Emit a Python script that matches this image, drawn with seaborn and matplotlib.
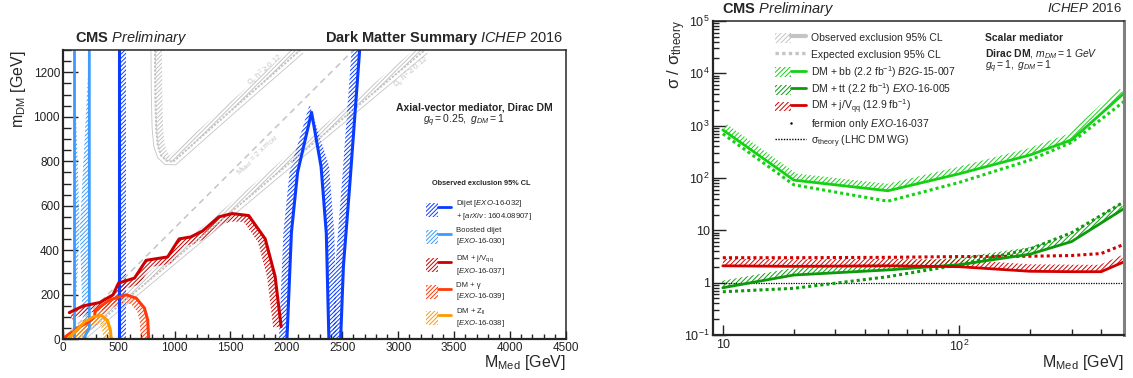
import numpy as np
import seaborn as sns
import matplotlib.pyplot as plt
from matplotlib.lines import Line2D
from matplotlib.patches import Patch, Rectangle
from matplotlib.legend_handler import HandlerTuple, HandlerPatch
from matplotlib.ticker import MultipleLocator, FixedLocator, FixedFormatter, LogLocator, NullFormatter

# ---------------- left panel: axial-vector mediator, (M_med, m_DM) in GeV
dijet_mmed = [505, 505]
dijet_mdm = [0, 1300]
dijet_peak_mmed = [2005, 2045, 2100, 2225, 2310, 2357, 2380]
dijet_peak_mdm = [0, 480, 750, 1020, 776, 476, 0]
dijet_high_mmed = [2485, 2510, 2570, 2655]
dijet_high_mdm = [0, 330, 716, 1300]
boosted_left_mmed = [101, 101]
boosted_left_mdm = [0, 1300]
boosted_right_mmed = [238, 238, 184]
boosted_right_mdm = [1300, 50, 0]
monojet_mmed = [59, 183, 331, 450, 500, 642, 746, 938, 1041, 1145, 1249, 1396, 1515, 1663, 1811, 1899, 1953]
monojet_mdm = [120, 150, 165, 200, 253, 275, 355, 370, 451, 460, 486, 550, 565, 556, 451, 283, 57]
monophoton_mmed = [20, 65, 110, 125, 210, 285, 290, 420, 568, 657, 731, 760, 769]
monophoton_mdm = [10, 27, 37, 50, 72, 100, 130, 177, 200, 185, 140, 87, 0]
monoz_mmed = [50, 120, 200, 280, 346, 400, 425, 435]
monoz_mdm = [5, 40, 80, 102, 107, 85, 45, 0]
relic_u_mmed = [825, 828, 835, 850, 880, 930, 988, 1494, 2125]
relic_u_mdm = [1300, 1100, 950, 870, 825, 802, 798, 1023, 1300]
relic_low_mmed = [143, 3238]
relic_low_mdm = [0, 1300]
diag_mmed = [0, 2600]
diag_mdm = [0, 1300]

# ---------------- right panel: scalar mediator, sigma/sigma_theory
med_mass = [10, 20, 50, 100, 200, 300, 500]
bb_obs = [830, 91, 57, 120, 275, 535, 4150]
bb_exp = [700, 74, 36, 82, 220, 480, 2900]
tt_obs = [0.80, 1.4, 1.75, 2.2, 3.5, 6.1, 26]
tt_exp = [0.67, 0.78, 1.3, 2.2, 4.4, 9.0, 35]
mono_mass = [10, 20, 50, 100, 200, 300, 400, 500]
mono_obs = [2.1, 2.05, 2.1, 2.02, 1.65, 1.62, 1.62, 2.5]
mono_exp = [3.0, 3.0, 3.05, 3.15, 3.2, 3.3, 3.6, 5.4]
theory_mass = [10, 500]
theory_val = [1, 1]

c_dijet = '#0a3cff'
c_boost = '#3d9bff'
c_monojet = '#cc0000'
c_photon = '#ff3a0a'
c_z = '#ff9a00'
c_relic = '#c4c4c4'
c_bb = '#16d016'
c_tt = '#0c9a0c'
c_red = '#d40000'
HATCH_L = '/' * 8
HATCH_R = '/' * 7

sns.set_style("ticks")
plt.rcParams['font.family'] = ['Liberation Sans', 'DejaVu Sans']
plt.rcParams['mathtext.fontset'] = 'custom'
plt.rcParams['mathtext.rm'] = 'Liberation Sans'
plt.rcParams['mathtext.it'] = 'Liberation Sans:italic'
plt.rcParams['mathtext.bf'] = 'Liberation Sans:bold'
plt.rcParams['mathtext.sf'] = 'Liberation Sans'
plt.rcParams['hatch.linewidth'] = 0.7
plt.rcParams['xtick.direction'] = 'in'
plt.rcParams['ytick.direction'] = 'in'

W, H = 1133, 378
fig = plt.figure(figsize=(W / 100, H / 100), dpi=100)
axl = fig.add_axes([62.7 / W, 1 - 339.3 / H, 503.3 / W, 289.3 / H])
axr = fig.add_axes([712.7 / W, 1 - 335 / H, 411.3 / W, 314 / H])

axl.set_xlim(0, 4500)
axl.set_ylim(0, 1300)
axr.set_xscale('log')
axr.set_yscale('log')
axr.set_xlim(9.06, 500)
axr.set_ylim(0.1, 1e5)


def offset_line(ax, x, y, dist):
    # shift a curve sideways by dist pixels (positive = left of drawing direction)
    pts = ax.transData.transform(np.column_stack([x, y]).astype(float))
    t = np.gradient(pts, axis=0)
    t /= np.hypot(t[:, 0], t[:, 1])[:, None]
    n = np.column_stack([-t[:, 1], t[:, 0]])
    return ax.transData.inverted().transform(pts + dist * n)


def hatch_side(ax, x, y, color, dist, hatch):
    off = offset_line(ax, x, y, dist)
    xs = np.concatenate([np.asarray(x, float), off[::-1, 0]])
    ys = np.concatenate([np.asarray(y, float), off[::-1, 1]])
    ax.fill(xs, ys, facecolor='none', edgecolor=color, hatch=hatch, lw=0)


def curve(ax, x, y, color, lw, **kw):
    sns.lineplot(x=x, y=y, sort=False, estimator=None, color=color, linewidth=lw, ax=ax, **kw)


# ---- left: grey relic lines and M = 2m line
for mx, my in [(relic_u_mmed, relic_u_mdm), (relic_low_mmed, relic_low_mdm)]:
    hatch_side(axl, mx, my, c_relic, 7, HATCH_L)
    thin = offset_line(axl, mx, my, -4)
    axl.plot(thin[:, 0], thin[:, 1], color=c_relic, lw=0.6)
    curve(axl, mx, my, c_relic, 1.4, linestyle=(0, (1.2, 0.8)))
curve(axl, diag_mmed, diag_mdm, '#c4c4c4', 1.1, linestyle=(0, (4, 3)))
axl.text(1746, 827, r"M$_{\rm Med}$ = 2 x m$_{\rm DM}$", rotation=44.8, color='#c4c4c4',
         fontsize=5.5, ha='center', va='center', rotation_mode='anchor')
axl.text(1807, 1210, "Ω$_{c}$ h$^{2}$ ≥ 0.12", rotation=41, color='#c4c4c4',
         fontsize=5.5, ha='center', va='center', rotation_mode='anchor')
axl.text(3116, 1200, "Ω$_{c}$ h$^{2}$ ≥ 0.12", rotation=41, color='#c4c4c4',
         fontsize=5.5, ha='center', va='center', rotation_mode='anchor')

# ---- left: exclusion contours
bx = boosted_left_mmed + boosted_right_mmed[::-1]
by = boosted_left_mdm + boosted_right_mdm[::-1]
axl.fill(bx, by, facecolor='none', edgecolor=c_boost, hatch=HATCH_L, lw=0)
curve(axl, boosted_left_mmed, boosted_left_mdm, c_boost, 2.0)
curve(axl, boosted_right_mmed, boosted_right_mdm, c_boost, 2.0)

hatch_side(axl, dijet_mmed, dijet_mdm, c_dijet, -7, HATCH_L)
hatch_side(axl, dijet_peak_mmed, dijet_peak_mdm, c_dijet, 8, HATCH_L)
hatch_side(axl, dijet_high_mmed, dijet_high_mdm, c_dijet, 8, HATCH_L)
curve(axl, dijet_mmed, dijet_mdm, c_dijet, 2.2)
curve(axl, dijet_peak_mmed, dijet_peak_mdm, c_dijet, 2.2)
curve(axl, dijet_high_mmed, dijet_high_mdm, c_dijet, 2.2)

hatch_side(axl, monojet_mmed, monojet_mdm, c_monojet, -8, HATCH_L)
curve(axl, monojet_mmed, monojet_mdm, c_monojet, 2.2)
hatch_side(axl, monophoton_mmed, monophoton_mdm, c_photon, -8, HATCH_L)
curve(axl, monophoton_mmed, monophoton_mdm, c_photon, 2.2)
hatch_side(axl, monoz_mmed, monoz_mdm, c_z, -8, HATCH_L)
curve(axl, monoz_mmed, monoz_mdm, c_z, 2.2)

axl.xaxis.set_major_locator(MultipleLocator(500))
axl.xaxis.set_minor_locator(MultipleLocator(100))
axl.yaxis.set_minor_locator(MultipleLocator(50))
axl.set_yticks([0, 200, 400, 600, 800, 1000, 1200])
axl.tick_params(axis='x', which='major', length=5.5, width=1, labelsize=8.5, pad=2)
axl.tick_params(axis='x', which='minor', length=3.5, width=1)
axl.tick_params(axis='y', which='major', length=11, width=1, labelsize=8.5, pad=2)
axl.tick_params(axis='y', which='minor', length=5.8, width=1)
axl.tick_params(top=False, right=False, which='both', colors='#222222', labelcolor='#222222')
for s in ['left', 'bottom']:
    axl.spines[s].set_linewidth(1.6)
for s in ['top', 'right']:
    axl.spines[s].set_linewidth(1.1)
axl.set_xlabel('')
axl.set_ylabel('')


def small_box(legend, orig_handle, xdescent, ydescent, width, height, fontsize):
    return Rectangle((-xdescent, -ydescent + 0.1 * height), width, 0.8 * height)


def hatch_handle(color, hatch, lw=2):
    return (Patch(facecolor='none', edgecolor=color, hatch=hatch, lw=0), Line2D([], [], color=color, lw=lw))


hmap = {tuple: HandlerTuple(ndivide=None), Patch: HandlerPatch(patch_func=small_box)}


def legend_row(handle, label, x, y, size, hl, hh, pad):
    # one legend entry per call so rows sit at the reference spacing
    fig.legend([handle], [label], loc='center left', bbox_to_anchor=(x / W, 1 - y / H),
               frameon=False, fontsize=size, handlelength=hl, handleheight=hh,
               handletextpad=pad, borderpad=0, borderaxespad=0, handler_map=hmap)


left_handles = [hatch_handle(c, HATCH_L) for c in [c_dijet, c_boost, c_monojet, c_photon, c_z]]
left_labels = [
    "Dijet $\\mathit{[EXO}$-$\\mathit{16}$-$\\mathit{032]}$\n+ $\\mathit{[arXiv{:}1604.08907]}$",
    "Boosted dijet\n$\\mathit{[EXO}$-$\\mathit{16}$-$\\mathit{030]}$",
    "DM + j/V$_{\\rm qq}$\n$\\mathit{[EXO}$-$\\mathit{16}$-$\\mathit{037]}$",
    "DM + γ\n$\\mathit{[EXO}$-$\\mathit{16}$-$\\mathit{039]}$",
    "DM + Z$_{\\rm ll}$\n$\\mathit{[EXO}$-$\\mathit{16}$-$\\mathit{038]}$",
]
left_rows = [210, 237, 265, 292, 318]
for h, l, y in zip(left_handles, left_labels, left_rows):
    legend_row(h, l, 426, y, 5.6, 3.2, 3.0, 0.7)
fig.text(481 / W, 1 - 183 / H, 'Observed exclusion 95% CL', fontsize=5.3, weight='bold',
         ha='center', va='center')

# ---- right panel
curve(axr, theory_mass, theory_val, 'black', 0.9, linestyle=(0, (1, 1)))
hatch_side(axr, med_mass, bb_obs, c_bb, 7, HATCH_R)
hatch_side(axr, med_mass, tt_obs, c_tt, 7, HATCH_R)
hatch_side(axr, mono_mass, mono_obs, c_red, 7, HATCH_R)
curve(axr, med_mass, bb_exp, c_bb, 2.2, linestyle=(0, (1, 1)))
curve(axr, med_mass, tt_exp, c_tt, 2.2, linestyle=(0, (1, 1)))
curve(axr, mono_mass, mono_exp, c_red, 2.2, linestyle=(0, (1, 1)))
curve(axr, med_mass, bb_obs, c_bb, 2.0)
curve(axr, med_mass, tt_obs, c_tt, 2.0)
curve(axr, mono_mass, mono_obs, c_red, 2.0)

axr.yaxis.set_major_locator(FixedLocator([0.1, 1, 10, 100, 1e3, 1e4, 1e5]))
axr.yaxis.set_major_formatter(FixedFormatter(['$10^{-1}$', '1', '10', '$10^{2}$', '$10^{3}$', '$10^{4}$', '$10^{5}$']))
axr.yaxis.set_minor_locator(LogLocator(base=10, subs=np.arange(2, 10), numticks=20))
axr.yaxis.set_minor_formatter(NullFormatter())
axr.xaxis.set_major_locator(FixedLocator([10, 100]))
axr.xaxis.set_major_formatter(FixedFormatter(['10', '$10^{2}$']))
axr.xaxis.set_minor_locator(LogLocator(base=10, subs=np.arange(2, 10), numticks=20))
axr.xaxis.set_minor_formatter(NullFormatter())
axr.tick_params(axis='x', which='major', length=7, width=1, labelsize=9, pad=3)
axr.tick_params(axis='x', which='minor', length=4.5, width=1)
axr.tick_params(axis='y', which='major', length=9, width=1, labelsize=9, pad=2)
axr.tick_params(axis='y', which='minor', length=4.5, width=1)
axr.tick_params(top=False, right=False, which='both', colors='#222222', labelcolor='#222222')
axr.spines['left'].set_linewidth(1.6)
axr.spines['bottom'].set_linewidth(1.6)
axr.spines['top'].set_linewidth(1.1)
axr.spines['right'].set_linewidth(2.2)
axr.spines['right'].set_color('#808080')
axr.set_xlabel('')
axr.set_ylabel('')

right_handles = [
    hatch_handle(c_relic, HATCH_R, 3),
    Line2D([], [], color=c_relic, lw=2.4, linestyle=(0, (1, 1))),
    hatch_handle(c_bb, HATCH_R), hatch_handle(c_tt, HATCH_R), hatch_handle(c_red, HATCH_R),
    Line2D([], [], color='black', marker='.', markersize=1.5, linestyle='none'),
    Line2D([], [], color='black', lw=1, linestyle=(0, (1, 1))),
]
right_labels = [
    "Observed exclusion 95% CL",
    "Expected exclusion 95% CL",
    "DM + bb (2.2 fb$^{-1}$) $\\mathit{B2G}$-$\\mathit{15}$-$\\mathit{007}$",
    "DM + tt (2.2 fb$^{-1}$) $\\mathit{EXO}$-$\\mathit{16}$-$\\mathit{005}$",
    "DM + j/V$_{\\rm qq}$ (12.9 fb$^{-1}$)",
    "fermion only $\\mathit{EXO}$-$\\mathit{16}$-$\\mathit{037}$",
    "σ$_{\\rm theory}$ (LHC DM WG)",
]
right_rows = [37.7, 54.5, 71.8, 89.3, 106.7, 124.5, 141.7]
for h, l, y in zip(right_handles, right_labels, right_rows):
    legend_row(h, l, 775, y, 7.5, 3.0, 1.4, 0.5)

# ---- texts
fig.text(75 / W, 1 - 38 / H, r"$\mathbf{CMS}$ $\mathit{Preliminary}$", fontsize=10.5, va='center')
fig.text(563 / W, 1 - 38 / H, r"$\mathbf{Dark\ Matter\ Summary}$ $\mathit{ICHEP\ 2016}$",
         fontsize=10.5, va='center', ha='right')
fig.text(474 / W, 1 - 108 / H, "Axial-vector mediator, Dirac DM", fontsize=7.5, weight='bold',
         ha='center', va='center')
fig.text(423 / W, 1 - 121 / H, r"$\mathit{g_{q} = 0.25,\ g_{DM} = 1}$", fontsize=7.5, va='center')
fig.text(18 / W, 1 - 50 / H, r"m$_{\rm DM}$ [GeV]", rotation=90, fontsize=11.5, ha='center', va='top')
fig.text(566 / W, 1 - 363 / H, r"M$_{\rm Med}$ [GeV]", fontsize=11.5, ha='right', va='center')

fig.text(722 / W, 1 - 9 / H, r"$\mathbf{CMS}$ $\mathit{Preliminary}$", fontsize=10.5, va='center')
fig.text(1122 / W, 1 - 9 / H, r"$\mathit{ICHEP\ 2016}$", fontsize=9.5, va='center', ha='right')
fig.text(985 / W, 1 - 38 / H, "Scalar mediator", fontsize=7.5, weight='bold', va='center')
fig.text(985 / W, 1 - 54 / H, r"$\mathbf{Dirac\ DM}$, $\mathit{m_{DM} = 1\ GeV}$", fontsize=7.5, va='center')
fig.text(985 / W, 1 - 67 / H, r"$\mathit{g_{q} = 1,\ g_{DM} = 1}$", fontsize=7.5, va='center')
fig.text(677 / W, 1 - 20 / H, "σ / σ$_{\\rm theory}$", rotation=90, fontsize=12, ha='center', va='top')
fig.text(1124 / W, 1 - 362 / H, r"M$_{\rm Med}$ [GeV]", fontsize=11.5, ha='right', va='center')

fig.savefig('out.png', dpi=100)
